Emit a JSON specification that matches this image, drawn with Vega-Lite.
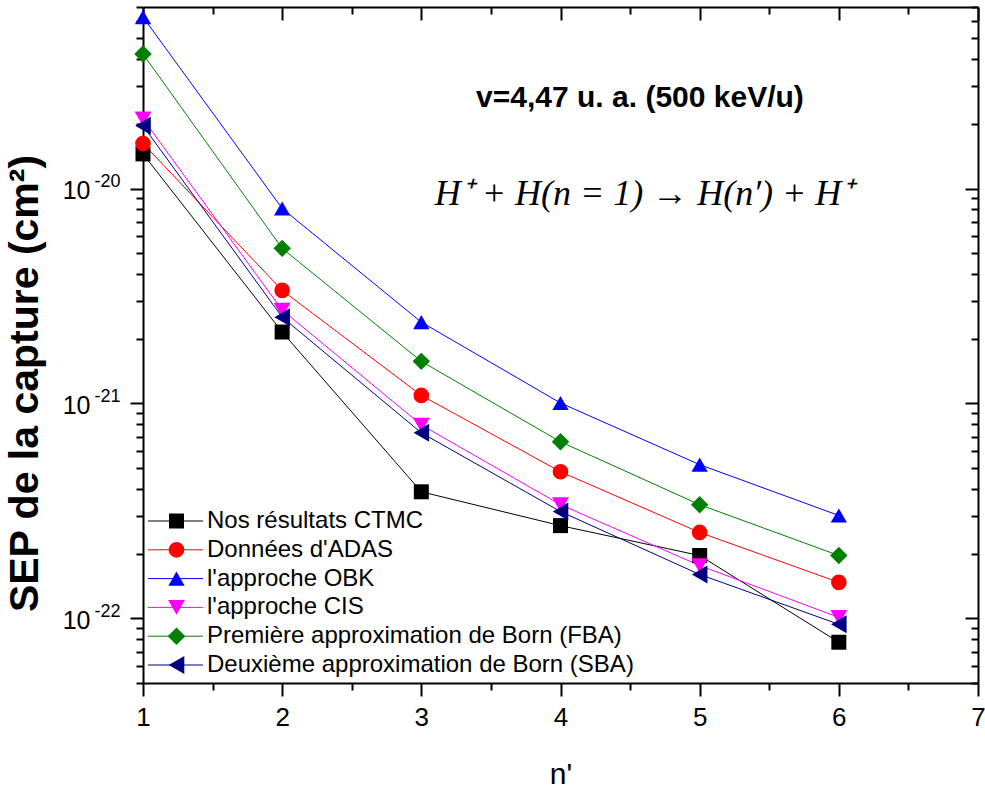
{
  "$schema": "https://vega.github.io/schema/vega-lite/v6.json",
  "width": 835,
  "height": 676,
  "autosize": {"type": "none"},
  "padding": {"left": 143, "top": 7, "right": 7, "bottom": 111},
  "background": "white",
  "config": {
    "view": {"stroke": null},
    "font": "Liberation Sans",
    "axis": {"domainColor": "black", "domainWidth": 2, "tickColor": "black", "tickWidth": 2, "labelColor": "black", "titleColor": "black", "grid": false, "labelFont": "Liberation Sans", "titleFont": "Liberation Sans"}
  },
  "datasets": {
    "sep": [
      {"series": "Nos résultats CTMC", "n": 1, "sep": 1.45e-20},
      {"series": "Nos résultats CTMC", "n": 2, "sep": 2.15e-21},
      {"series": "Nos résultats CTMC", "n": 3, "sep": 3.88e-22},
      {"series": "Nos résultats CTMC", "n": 4, "sep": 2.70e-22},
      {"series": "Nos résultats CTMC", "n": 5, "sep": 1.96e-22},
      {"series": "Nos résultats CTMC", "n": 6, "sep": 7.74e-23},
      {"series": "Données d'ADAS", "n": 1, "sep": 1.62e-20},
      {"series": "Données d'ADAS", "n": 2, "sep": 3.36e-21},
      {"series": "Données d'ADAS", "n": 3, "sep": 1.09e-21},
      {"series": "Données d'ADAS", "n": 4, "sep": 4.81e-22},
      {"series": "Données d'ADAS", "n": 5, "sep": 2.51e-22},
      {"series": "Données d'ADAS", "n": 6, "sep": 1.47e-22},
      {"series": "l'approche OBK", "n": 1, "sep": 6.28e-20},
      {"series": "l'approche OBK", "n": 2, "sep": 8.08e-21},
      {"series": "l'approche OBK", "n": 3, "sep": 2.39e-21},
      {"series": "l'approche OBK", "n": 4, "sep": 1.005e-21},
      {"series": "l'approche OBK", "n": 5, "sep": 5.19e-22},
      {"series": "l'approche OBK", "n": 6, "sep": 3.01e-22},
      {"series": "l'approche CIS", "n": 1, "sep": 2.11e-20},
      {"series": "l'approche CIS", "n": 2, "sep": 2.72e-21},
      {"series": "l'approche CIS", "n": 3, "sep": 7.94e-22},
      {"series": "l'approche CIS", "n": 4, "sep": 3.38e-22},
      {"series": "l'approche CIS", "n": 5, "sep": 1.76e-22},
      {"series": "l'approche CIS", "n": 6, "sep": 1.01e-22},
      {"series": "Première approximation de Born (FBA)", "n": 1, "sep": 4.23e-20},
      {"series": "Première approximation de Born (FBA)", "n": 2, "sep": 5.27e-21},
      {"series": "Première approximation de Born (FBA)", "n": 3, "sep": 1.57e-21},
      {"series": "Première approximation de Born (FBA)", "n": 4, "sep": 6.63e-22},
      {"series": "Première approximation de Born (FBA)", "n": 5, "sep": 3.38e-22},
      {"series": "Première approximation de Born (FBA)", "n": 6, "sep": 1.96e-22},
      {"series": "Deuxième approximation de Born (SBA)", "n": 1, "sep": 1.96e-20},
      {"series": "Deuxième approximation de Born (SBA)", "n": 2, "sep": 2.52e-21},
      {"series": "Deuxième approximation de Born (SBA)", "n": 3, "sep": 7.3e-22},
      {"series": "Deuxième approximation de Born (SBA)", "n": 4, "sep": 3.14e-22},
      {"series": "Deuxième approximation de Born (SBA)", "n": 5, "sep": 1.6e-22},
      {"series": "Deuxième approximation de Born (SBA)", "n": 6, "sep": 9.38e-23}
    ]
  },
  "layer": [
    {
      "layer": [
        {
          "data": {"name": "sep"},
          "mark": {"type": "line", "strokeWidth": 1},
          "encoding": {
            "x": {"field": "n", "type": "quantitative", "scale": {"domain": [1, 7], "nice": false, "zero": false},
              "axis": {"orient": "bottom", "title": "n'", "titleFontSize": 30, "titleFontWeight": "normal", "titlePadding": 29,
                "values": [1, 1.5, 2, 2.5, 3, 3.5, 4, 4.5, 5, 5.5, 6, 6.5, 7],
                "labelExpr": "datum.value % 1 === 0 ? format(datum.value, 'd') : ''",
                "labelFontSize": 26, "labelPadding": 8, "labelFlush": false, "labelOverlap": false,
                "tickSize": {"condition": {"test": "datum.value % 1 === 0", "value": 13}, "value": 7}}},
            "y": {"field": "sep", "type": "quantitative", "scale": {"type": "log", "domain": [5e-23, 7e-20], "nice": false},
              "axis": {"orient": "left", "title": "SEP de la capture (cm²)", "titleFontSize": 41, "titleFontWeight": "bold", "titlePadding": 16, "titleY": 376,
                "values": [5e-23, 6e-23, 7e-23, 8e-23, 9e-23, 1e-22, 2e-22, 3e-22, 4e-22, 5e-22, 6e-22, 7e-22, 8e-22, 9e-22, 1e-21, 2e-21, 3e-21, 4e-21, 5e-21, 6e-21, 7e-21, 8e-21, 9e-21, 1e-20, 2e-20, 3e-20, 4e-20, 5e-20, 6e-20, 7e-20],
                "labelExpr": "abs(log(datum.value)/LN10 - round(log(datum.value)/LN10)) < 0.001 ? '10' : ''",
                "labelFontSize": 25, "labelPadding": 40, "labelOffset": 2, "labelOverlap": false, "labelFlush": false,
                "tickSize": {"condition": {"test": "abs(log(datum.value)/LN10 - round(log(datum.value)/LN10)) < 0.001", "value": 13}, "value": 7}}},
            "color": {"field": "series", "type": "nominal",
              "scale": {"domain": ["Nos résultats CTMC", "Données d'ADAS", "l'approche OBK", "l'approche CIS", "Première approximation de Born (FBA)", "Deuxième approximation de Born (SBA)"],
                "range": ["#000000", "#ff0000", "#0000ff", "#ff00ff", "#008000", "#000080"]},
              "legend": {"orient": "none", "legendX": 4.5, "legendY": 502, "title": null, "symbolType": "stroke", "symbolSize": 3025, "symbolStrokeWidth": 1,
                "labelFontSize": 24, "labelOpacity": 0, "clipHeight": 24, "rowPadding": 4.8, "padding": 0, "labelLimit": 600}}
          }
        },
        {
          "data": {"name": "sep"},
          "mark": {"type": "point", "filled": true, "opacity": 1},
          "encoding": {
            "x": {"field": "n", "type": "quantitative"},
            "y": {"field": "sep", "type": "quantitative"},
            "color": {"field": "series", "type": "nominal",
              "scale": {"domain": ["Nos résultats CTMC", "Données d'ADAS", "l'approche OBK", "l'approche CIS", "Première approximation de Born (FBA)", "Deuxième approximation de Born (SBA)"],
                "range": ["#000000", "#ff0000", "#0000ff", "#ff00ff", "#008000", "#000080"]},
              "legend": {"orient": "none", "legendX": 21.5, "legendY": 502, "title": null, "symbolSize": 300,
                "encode": {"symbols": {"update": {"size": {"value": 330}}}},
                "labelFontSize": 24, "labelFont": "Liberation Sans", "labelColor": "black", "labelOffset": 18.5, "clipHeight": 24, "rowPadding": 4.8, "padding": 0, "labelLimit": 600}},
            "shape": {"field": "series", "type": "nominal",
              "scale": {"domain": ["Nos résultats CTMC", "Données d'ADAS", "l'approche OBK", "l'approche CIS", "Première approximation de Born (FBA)", "Deuxième approximation de Born (SBA)"],
                "range": ["square", "circle", "triangle-up", "triangle-down", "diamond", "triangle-left"]}},
            "size": {"field": "series", "type": "nominal",
              "scale": {"domain": ["Nos résultats CTMC", "Données d'ADAS", "l'approche OBK", "l'approche CIS", "Première approximation de Born (FBA)", "Deuxième approximation de Born (SBA)"],
                "range": [225, 324, 450, 450, 441, 450]}}
          }
        },
        {
          "data": {"values": [{}]},
          "mark": {"type": "text", "text": "v=4,47 u. a. (500 keV/u)", "font": "Liberation Sans", "fontWeight": "bold", "fontSize": 30, "color": "black", "align": "center", "baseline": "middle"},
          "encoding": {"x": {"datum": 4.571}, "y": {"datum": 2.64e-20}}
        },
        {
          "data": {"values": [{}]},
          "mark": {"type": "text", "text": "H⁺ + H(n = 1) → H(n′) + H⁺", "font": "Liberation Serif", "fontStyle": "italic", "fontSize": 36, "color": "black", "align": "center", "baseline": "middle"},
          "encoding": {"x": {"datum": 4.6}, "y": {"datum": 9.48e-21}}
        }
      ],
      "resolve": {
        "scale": {"color": "independent", "shape": "independent", "size": "independent"},
        "legend": {"color": "independent", "shape": "independent", "size": "independent"}
      }
    },
    {
      "data": {"name": "sep"},
      "mark": {"type": "point", "opacity": 0},
      "encoding": {
        "x": {"field": "n", "type": "quantitative", "scale": {"domain": [1, 7], "nice": false, "zero": false},
          "axis": {"orient": "top", "title": null, "labels": false,
            "values": [1, 1.5, 2, 2.5, 3, 3.5, 4, 4.5, 5, 5.5, 6, 6.5, 7],
            "tickSize": {"condition": {"test": "datum.value % 1 === 0", "value": -13}, "value": -7}}},
        "y": {"field": "sep", "type": "quantitative", "scale": {"type": "log", "domain": [5e-23, 7e-20], "nice": false},
          "axis": {"orient": "right", "title": null, "labels": false,
            "values": [5e-23, 6e-23, 7e-23, 8e-23, 9e-23, 1e-22, 2e-22, 3e-22, 4e-22, 5e-22, 6e-22, 7e-22, 8e-22, 9e-22, 1e-21, 2e-21, 3e-21, 4e-21, 5e-21, 6e-21, 7e-21, 8e-21, 9e-21, 1e-20, 2e-20, 3e-20, 4e-20, 5e-20, 6e-20, 7e-20],
            "tickSize": {"condition": {"test": "abs(log(datum.value)/LN10 - round(log(datum.value)/LN10)) < 0.001", "value": -13}, "value": -7}}}
      }
    },
    {
      "data": {"name": "sep"},
      "mark": {"type": "point", "opacity": 0},
      "encoding": {
        "y": {"field": "sep", "type": "quantitative", "scale": {"type": "log", "domain": [5e-23, 7e-20], "nice": false},
          "axis": {"orient": "left", "title": null, "domain": false, "ticks": false,
            "values": [1e-22, 1e-21, 1e-20],
            "labelExpr": "'-' + format(-round(log(datum.value)/LN10), 'd')",
            "labelFontSize": 18, "labelPadding": 23, "labelOffset": -7, "labelOverlap": false, "labelFlush": false}}
      }
    }
  ],
  "resolve": {"axis": {"x": "independent", "y": "independent"}}
}
